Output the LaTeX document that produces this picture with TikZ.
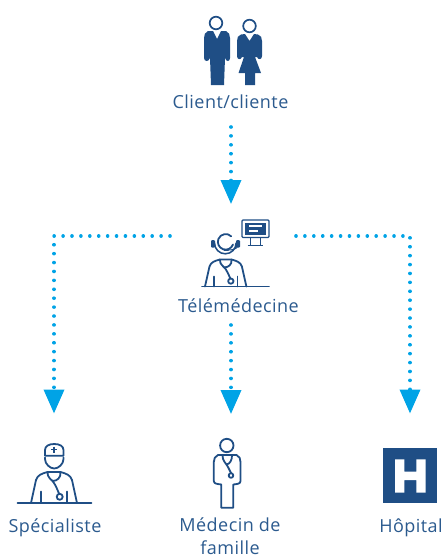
\documentclass[tikz,border=0pt]{standalone}
\usepackage{fontspec}
\setmainfont[LetterSpace=2.5]{Open Sans}
\usetikzlibrary{arrows.meta}
\definecolor{navy}{HTML}{1F4E85}
\definecolor{txtblue}{HTML}{2B5A8E}
\definecolor{dotblue}{HTML}{00A3E6}
\tikzset{
  lbl/.style={font=\fontsize{18pt}{22.8pt}\selectfont, text=txtblue, align=center, inner sep=0pt, outer sep=0pt},
  hub/.style={inner sep=0pt, outer sep=0pt},
  link/.style={dotblue, line width=3.6pt, line cap=round, line join=round, dash pattern=on 0.01pt off 8.9pt,
     -{Triangle[length=24pt,width=20pt,fill=dotblue]}},
  ico/.style={navy, line width=1.8pt, line cap=round, line join=round, fill=none}
}
\newcommand{\doctorbody}{%
  \draw[ico] (-23,0) -- (-18,-23) .. controls (-16.5,-28) and (-12,-29.5) .. (-6.5,-31) -- (6.5,-31)
     .. controls (12,-29.5) and (16.5,-28) .. (18,-23) -- (23,0);
  \draw[ico] (-13,0) -- (-13,-11.5);
  \draw[ico] (13,0) -- (13,-11.5);
  \draw[ico] (-6.5,-31) .. controls (-6.5,-24) and (-2,-24) .. (0,-20) .. controls (2,-17) and (3.5,-13) .. (5,-9.5);
  \draw[ico] (6.5,-31) .. controls (7,-25) and (3,-22) .. (-1.5,-22);
  \draw[ico] (5.7,-6.2) circle (3);
}
\begin{document}
\begin{tikzpicture}[x=1pt,y=-1pt]
\useasboundingbox (0,0) rectangle (443,557);

% text labels
\node[lbl, anchor=base] (clientlabel) at (230.5,108.3) {Client/cliente};
\node[lbl, anchor=base] (telelabel) at (238.5,312.7) {Télémédecine};
\node[lbl, anchor=base] (speclabel) at (55,532) {Spécialiste};
\node[lbl] (medlabel) at (230,536) {Médecin de\\famille};
\node[lbl, anchor=base] (hoplabel) at (411,532.5) {Hôpital};

% anchors of the connectors
\node[hub, minimum width=120pt, minimum height=50pt] (client) at (231,102) {};
\node[hub, minimum width=126pt, minimum height=64pt] (tele) at (233,236) {};
\node[hub, minimum width=120pt, minimum height=36pt] (telebox) at (231,307) {};
\node[hub, minimum width=60pt, minimum height=90pt, anchor=north] (spec) at (54,413.5) {};
\node[hub, minimum width=60pt, minimum height=90pt, anchor=north] (med) at (231,414) {};
\node[hub, minimum width=60pt, minimum height=90pt, anchor=north] (hop) at (410,413.5) {};

% connectors
\draw[link] (client.south) -- (client.south |- tele.north);
\draw[link] (tele.west) -- (tele.west -| spec.north) -- (spec.north);
\draw[link] (telebox.south) -- (med.north);
\draw[link] (tele.east) -- (tele.east -| hop.north) -- (hop.north);

% man
\draw[navy, line width=1.7pt] (216,23) circle (6.3);
\fill[navy] (208,31) -- (213,31) -- (217,39) -- (221,31) -- (226,31)
  .. controls (229,32) and (230,35) .. (230,38) -- (230,58) .. controls (230,62) and (226,62) .. (225,58)
  -- (224,85) -- (211,85) -- (210,58) .. controls (209,62) and (204,62) .. (204,58) -- (204,38)
  .. controls (204,35) and (205,32) .. (208,31) -- cycle;
% woman
\draw[navy, line width=1.7pt] (249.5,26) circle (6.3);
\fill[navy] (241,34.5) -- (245,34) -- (249.5,41) -- (254,34) -- (258,34.5)
  .. controls (261,35) and (262,38) .. (262,41) -- (262,56) .. controls (262,60) and (258,60) .. (257,57)
  -- (255,57) -- (261,73) -- (255,73) -- (255,85) -- (245,85) -- (245,73) -- (238.5,73) -- (244,57) -- (242,57)
  .. controls (241,60) and (237,60) .. (237,56) -- (237,41) .. controls (237,38) and (238,35) .. (241,34.5) -- cycle;

% telemedicine operator
\begin{scope}[shift={(225.7,286.5)},xscale=0.9,yscale=0.87]
  \doctorbody
\end{scope}
\draw[ico] (202,286.5) -- (269,286.5);
\draw[ico] (233,244.5) arc[start angle=20,end angle=315,radius=7.8];
\draw[ico, line width=1.5pt] (214.5,243) arc[start angle=180,end angle=0,radius=10.8];
\fill[navy, rounded corners=1pt] (211,240) rectangle +(4,7.5);
\fill[navy, rounded corners=1pt] (236,240) rectangle +(4,7.5);
\draw[navy, line width=2.6pt, line cap=round] (224.5,250) -- (228,250);
\draw[navy, line width=1pt] (228,250) .. controls (233,250) and (237,249) .. (237.5,246);
% monitor
\draw[navy, line width=1.3pt, rounded corners=1pt] (242,220) rectangle (269,237.5);
\fill[navy] (244.5,222.5) rectangle (266,235);
\fill[white] (249,225) rectangle (261.5,227.3);
\fill[white] (249,229.8) rectangle (258,231.8);
\draw[navy, line width=1pt] (250,237.5) -- (250,245) (260,237.5) -- (260,245);
\draw[navy, line width=1.3pt] (247.5,245.3) -- (263,245.3);

% specialist
\begin{scope}[shift={(54,503)}]
  \doctorbody
\end{scope}
\draw[ico] (17.5,503) -- (91.5,503);
\draw[ico] (45,455.7) -- (45,450) .. controls (45,446) and (49,444) .. (54.2,444) .. controls (59.5,444) and (63.5,446) .. (63.5,450) -- (63.5,455.7) -- cycle;
\draw[navy, line width=1.8pt] (54.2,446.5) -- (54.2,452.5) (51,449.5) -- (57.4,449.5);
\draw[ico] (45,457.5) -- (45,459) .. controls (45,464) and (50,468.5) .. (54.2,468.5) .. controls (58.5,468.5) and (63.5,464) .. (63.5,459) -- (63.5,457.5);

% family doctor
\draw[ico] (226.8,445.5) circle (6.7);
\draw[ico] (218,455) .. controls (215,456) and (213.8,459) .. (213.8,462) -- (213.8,481)
   .. controls (213.8,484) and (218,484) .. (221.3,484.5) -- (221.3,507.7) -- (233.3,507.7) -- (233.3,484.5)
   .. controls (237,484) and (240.5,484) .. (240.5,481) -- (240.5,462) .. controls (240.5,459) and (239.5,456) .. (236.5,455) -- cycle;
\draw[ico] (222.5,455.5) .. controls (222.5,461) and (226,463) .. (228,467) .. controls (229,469) and (230,471) .. (231,473);
\draw[ico] (232,455.5) .. controls (232,460) and (230,464) .. (226.5,464.5);
\draw[ico] (231,475.5) circle (2.3);

% hospital
\fill[navy] (383,448.3) rectangle (437.3,503.3);
\fill[white] (395,459.3) -- (404.3,459.3) -- (404.3,471.7) -- (416.3,471.7) -- (416.3,459.3) -- (425.7,459.3)
  -- (425.7,492.7) -- (416.3,492.7) -- (416.3,480) -- (404.3,480) -- (404.3,492.7) -- (395,492.7) -- cycle;
\end{tikzpicture}
\end{document}
